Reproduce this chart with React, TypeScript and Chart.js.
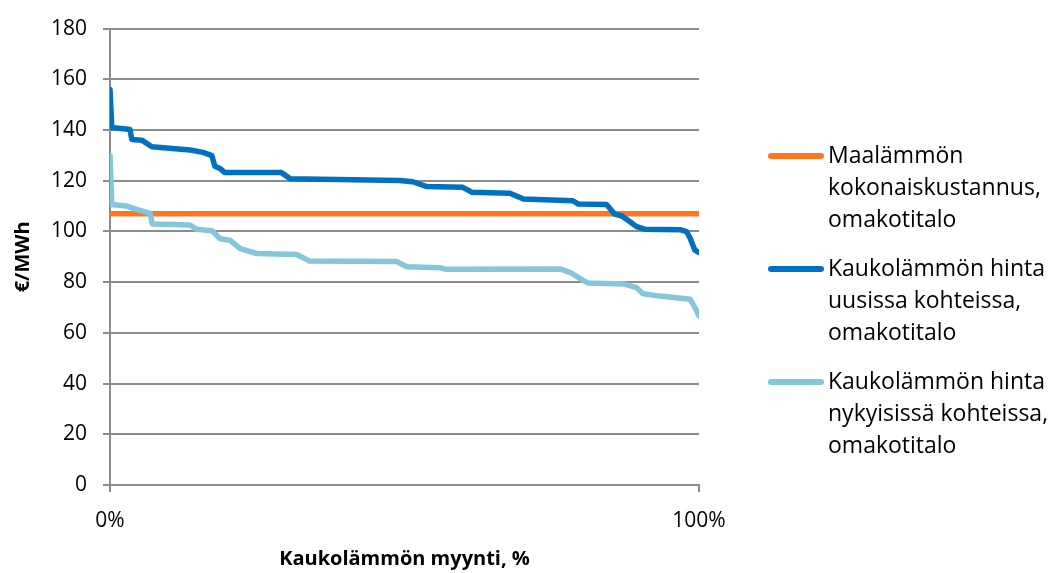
import React, { useEffect, useRef } from 'react';
import { Chart, registerables } from 'chart.js';

Chart.register(...registerables);

// ---- data ----
const uusiX = [0, 0.3, 3.4, 3.7, 5.4, 7.1, 13.6, 15.8, 17.3, 17.8, 18.7, 19.5, 29.1, 30.6, 49.2, 51.4, 53.8, 59.9, 61.4, 67.9, 70.2, 78.6, 79.5, 84.3, 85.7, 86.9, 88.3, 89.4, 90.8, 96.8, 97.9, 98.5, 99.3, 100];
const uusiY = [156, 141, 140.2, 136.3, 136.0, 133.4, 132.1, 131.2, 129.9, 125.7, 124.8, 123.2, 123.2, 120.8, 120.1, 119.6, 117.7, 117.4, 115.5, 115.1, 112.8, 112.1, 110.8, 110.6, 106.8, 106.1, 103.8, 101.9, 100.9, 100.7, 99.9, 97.3, 92.6, 91.7];

const nykyX = [0, 0.3, 2.8, 5.1, 6.8, 7.2, 13.6, 14.7, 17.3, 18.7, 20.4, 22.1, 24.9, 31.7, 33.9, 48.7, 50.4, 56.0, 56.9, 76.4, 78.1, 80.4, 81.2, 87.2, 89.4, 90.5, 93.4, 98.5, 99.3, 100];
const nykyY = [130, 110.6, 110, 108.3, 107.1, 102.9, 102.5, 100.9, 100.3, 97.1, 96.5, 93.2, 91.3, 90.9, 88.3, 88.1, 86.1, 85.7, 85.1, 85.2, 83.9, 80.6, 79.7, 79.3, 77.8, 75.4, 74.5, 73.3, 70.0, 66.7];

const maalampoX = [0, 100];
const maalampoY = [107, 107];

const xTickValues = [0, 100];
const yMin = 0;
const yMax = 180;
const yStep = 20;

const seriesNames = [
  ['Maalämmön', 'kokonaiskustannus,', 'omakotitalo'],
  ['Kaukolämmön hinta', 'uusissa kohteissa,', 'omakotitalo'],
  ['Kaukolämmön hinta', 'nykyisissä kohteissa,', 'omakotitalo'],
];
const yTitle = '€/MWh';
const xTitle = 'Kaukolämmön myynti, %';

// ---- styles ----
const FONT = "'Open Sans', sans-serif";
const COLORS = ['#FF7621', '#0070C0', '#86C6DB'];
const GRID = '#8c8c8c';

const toPoints = (xs: number[], ys: number[]) => xs.map((x, i) => ({ x, y: ys[i] }));

const sideLegend = {
  id: 'sideLegend',
  afterDraw(chart: any) {
    const ctx = chart.ctx;
    const top = 156;
    const itemGap = 113;
    const lineH = 32;
    ctx.save();
    chart.data.datasets.forEach((ds: any, i: number) => {
      const y0 = top + i * itemGap;
      ctx.strokeStyle = ds.borderColor;
      ctx.lineWidth = 6;
      ctx.lineCap = 'round';
      ctx.beginPath();
      ctx.moveTo(771, y0);
      ctx.lineTo(821, y0);
      ctx.stroke();
      ctx.fillStyle = '#000';
      ctx.font = `23px ${FONT}`;
      ctx.textBaseline = 'middle';
      ctx.textAlign = 'left';
      (ds.legendLines as string[]).forEach((t, j) => ctx.fillText(t, 828, y0 + j * lineH));
    });
    ctx.restore();
  },
};

export default function App() {
  const ref = useRef<HTMLCanvasElement | null>(null);
  useEffect(() => {
    if (!ref.current) return;
    const lineStyle = {
      pointRadius: 0,
      pointHoverRadius: 0,
      borderWidth: 5.5,
      tension: 0,
      borderCapStyle: 'round' as const,
      borderJoinStyle: 'round' as const,
      fill: false,
    };
    const chart = new Chart(ref.current, {
      type: 'line',
      data: {
        datasets: [
          { label: seriesNames[0].join(' '), legendLines: seriesNames[0], data: toPoints(maalampoX, maalampoY), borderColor: COLORS[0], backgroundColor: COLORS[0], order: 3, ...lineStyle } as any,
          { label: seriesNames[1].join(' '), legendLines: seriesNames[1], data: toPoints(uusiX, uusiY), borderColor: COLORS[1], backgroundColor: COLORS[1], order: 2, ...lineStyle } as any,
          { label: seriesNames[2].join(' '), legendLines: seriesNames[2], data: toPoints(nykyX, nykyY), borderColor: COLORS[2], backgroundColor: COLORS[2], order: 1, ...lineStyle } as any,
        ],
      },
      options: {
        animation: false,
        responsive: true,
        maintainAspectRatio: false,
        layout: { padding: { left: 0, right: 358, top: 22, bottom: 0 } },
        plugins: { legend: { display: false }, tooltip: { enabled: false } },
        scales: {
          x: {
            type: 'linear',
            min: 0,
            max: 100,
            afterBuildTicks: (s: any) => { s.ticks = xTickValues.map((v) => ({ value: v })); },
            afterFit: (s: any) => { s.height = 88; },
            ticks: {
              callback: (v: any) => `${v}%`,
              font: { family: FONT, size: 21 },
              color: '#000',
              padding: 16,
              maxRotation: 0,
            },
            grid: { drawOnChartArea: false, drawTicks: true, tickLength: 7, color: GRID, lineWidth: 2 },
            border: { display: true, color: GRID, width: 2 },
            title: {
              display: true,
              text: xTitle,
              font: { family: FONT, size: 20, weight: 'bold' },
              color: '#000',
              padding: { top: 0, bottom: 2 },
            },
          },
          y: {
            min: yMin,
            max: yMax,
            afterFit: (s: any) => { s.width = 110; },
            ticks: { stepSize: yStep, font: { family: FONT, size: 21 }, color: '#000', padding: 16 },
            grid: { color: GRID, lineWidth: 2, tickLength: 7 },
            border: { display: true, color: GRID, width: 2 },
            title: {
              display: true,
              text: yTitle,
              font: { family: FONT, size: 20, weight: 'bold' },
              color: '#000',
              padding: { top: 11, bottom: 0 },
            },
          },
        },
      },
      plugins: [sideLegend],
    });
    return () => chart.destroy();
  }, []);
  return (
    <div style={{ position: 'fixed', left: 0, top: 0, width: 1057, height: 573, background: '#fff' }}>
      <canvas ref={ref} />
    </div>
  );
}
